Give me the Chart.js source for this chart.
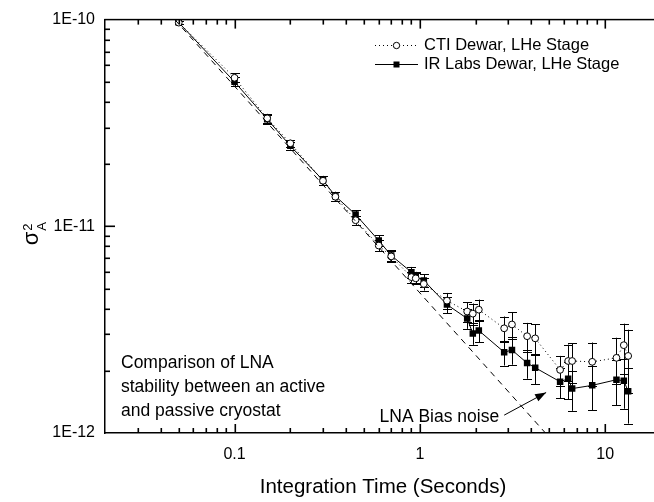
<!DOCTYPE html>
<html>
<head>
<meta charset="utf-8">
<script src="https://cdn.jsdelivr.net/npm/chart.js@4/dist/chart.umd.min.js"></script>
<style>
  html, body { margin: 0; padding: 0; background: #fff; overflow: hidden; width: 654px; height: 502px; }
  #wrap { position: relative; width: 680px; height: 502px; }
</style>
</head>
<body>
<div id="wrap"><canvas id="c" width="680" height="502"></canvas></div>
<script>
// Integration times (s) shared by both measurement runs
const times = [0.05, 0.1, 0.15, 0.2, 0.3, 0.35, 0.45, 0.6, 0.7, 0.9, 0.95, 1.05, 1.4, 1.8, 1.93, 2.08,
               2.85, 3.14, 3.79, 4.19, 5.71, 6.31, 6.63, 8.51, 11.5, 12.6, 13.3];

// Allan variance, CTI dewar (LHe stage)
const ctiVals = [9.67e-11, 5.23e-11, 3.33e-11, 2.52e-11, 1.66e-11, 1.39e-11, 1.07e-11, 8.07e-12, 7.15e-12,
                 5.68e-12, 5.6e-12, 5.26e-12, 4.37e-12, 3.87e-12, 3.78e-12, 3.95e-12, 3.21e-12, 3.35e-12,
                 2.94e-12, 2.87e-12, 2.02e-12, 2.23e-12, 2.23e-12, 2.21e-12, 2.31e-12, 2.66e-12, 2.36e-12];
const ctiErr  = [1.9e-12, 2.6e-12, 1.7e-12, 1.0e-12, 0.83e-12, 0.70e-12, 0.54e-12, 0.48e-12, 0.43e-12,
                 0.34e-12, 0.34e-12, 0.37e-12, 0.39e-12, 0.43e-12, 0.45e-12, 0.47e-12, 0.45e-12, 0.50e-12,
                 0.47e-12, 0.49e-12, 0.34e-12, 0.45e-12, 0.49e-12, 0.53e-12, 0.58e-12, 0.72e-12, 0.80e-12];

// Allan variance, IR Labs dewar (LHe stage)
const irVals  = [9.67e-11, 5.0e-11, 3.30e-11, 2.45e-11, 1.67e-11, 1.40e-11, 1.14e-11, 8.53e-12, 7.23e-12,
                 6.0e-12, 5.68e-12, 5.47e-12, 4.18e-12, 3.58e-12, 3.03e-12, 3.13e-12, 2.46e-12, 2.52e-12,
                 2.18e-12, 2.07e-12, 1.77e-12, 1.83e-12, 1.64e-12, 1.70e-12, 1.81e-12, 1.79e-12, 1.59e-12];
const irErr   = [1.9e-12, 2.5e-12, 1.65e-12, 0.98e-12, 0.84e-12, 0.70e-12, 0.57e-12, 0.51e-12, 0.43e-12,
                 0.36e-12, 0.34e-12, 0.38e-12, 0.38e-12, 0.39e-12, 0.36e-12, 0.38e-12, 0.34e-12, 0.38e-12,
                 0.35e-12, 0.35e-12, 0.30e-12, 0.37e-12, 0.36e-12, 0.41e-12, 0.45e-12, 0.48e-12, 0.48e-12];

// LNA bias noise: white-noise line (slope -1), endpoints on the frame
const biasTimes = [0.0476, 4.76];
const biasVals  = [1e-10, 1e-12];

// Axis extents and labelled decades
const xRange = [0.02, 20];
const yRange = [1e-12, 1e-10];
const xMajor = [0.1, 1, 10];
const yMajor = [1e-12, 1e-11, 1e-10];

const seriesNames = ['CTI Dewar, LHe Stage', 'IR Labs Dewar, LHe Stage'];
const noteLines = ['Comparison of LNA', 'stability between an active', 'and passive cryostat'];
const arrowLabel = 'LNA Bias noise';
const arrowTail = [2.85, 1.22e-12];
const arrowHead = [4.8, 1.57e-12];

const FONT = '"Liberation Sans", Arial, Helvetica, sans-serif';

const pts = (xs, ys) => xs.map((x, i) => ({ x, y: ys[i] }));

// 1..9 x 10^k positions strictly inside [lo, hi] for the tick marks
function logMarks(lo, hi) {
  const out = [];
  for (let k = Math.floor(Math.log10(lo)); k <= Math.ceil(Math.log10(hi)); k++) {
    for (let m = 1; m <= 9; m++) {
      const v = m * Math.pow(10, k);
      if (v > lo * 1.0001 && v < hi * 0.9999) out.push({ v: v, major: m === 1 });
    }
  }
  return out;
}

const inkPlugin = {
  id: 'ink',
  beforeDatasetsDraw(chart) {
    // vertical error bars with caps, under the markers
    const ctx = chart.ctx, xs = chart.scales.x, ys = chart.scales.y;
    ctx.save();
    ctx.strokeStyle = '#000';
    ctx.lineWidth = 1;
    chart.data.datasets.forEach(ds => {
      if (!ds.errors) return;
      ds.data.forEach((p, i) => {
        const e = ds.errors[i];
        const px = Math.round(xs.getPixelForValue(p.x)) + 0.5;
        const top = ys.getPixelForValue(p.y + e);
        const bot = ys.getPixelForValue(p.y - e);
        ctx.beginPath();
        ctx.moveTo(px, top); ctx.lineTo(px, bot);
        ctx.moveTo(px - 4.5, Math.round(top) + 0.5); ctx.lineTo(px + 4.5, Math.round(top) + 0.5);
        ctx.moveTo(px - 4.5, Math.round(bot) + 0.5); ctx.lineTo(px + 4.5, Math.round(bot) + 0.5);
        ctx.stroke();
      });
    });
    ctx.restore();
  },
  afterDraw(chart) {
    const ctx = chart.ctx, xs = chart.scales.x, ys = chart.scales.y;
    const a = chart.chartArea;
    ctx.save();
    ctx.setLineDash([]);
    ctx.strokeStyle = '#000';
    ctx.fillStyle = '#000';

    // top frame line
    ctx.fillRect(a.left - 0.75, a.top - 0.75, a.right - a.left + 1.5, 1.5);

    // inward tick marks on bottom, top and left edges
    for (const t of logMarks(xRange[0], xRange[1])) {
      const px = Math.round(xs.getPixelForValue(t.v));
      const len = t.major ? 9 : 5;
      ctx.fillRect(px - 0.5, a.bottom - len, 1.6, len);
      ctx.fillRect(px - 0.5, a.top, 1.6, len);
    }
    for (const t of logMarks(yRange[0], yRange[1])) {
      const py = Math.round(ys.getPixelForValue(t.v));
      const len = t.major ? 10 : 5;
      ctx.fillRect(a.left, py - 0.5, len, 1.6);
    }

    // y axis title: sigma_A squared, rotated
    ctx.save();
    ctx.translate(38, (a.top + a.bottom) / 2 + 9);
    ctx.rotate(-Math.PI / 2);
    ctx.textBaseline = 'alphabetic';
    ctx.textAlign = 'left';
    ctx.font = '22px ' + FONT;
    ctx.fillText('σ', -10, 0);
    const sw = ctx.measureText('σ').width;
    ctx.font = '13px ' + FONT;
    ctx.fillText('A', -10 + sw + 1, 8);
    ctx.fillText('2', -10 + sw + 1, -6);
    ctx.restore();

    // x axis title
    ctx.font = '20.5px ' + FONT;
    ctx.textAlign = 'center';
    ctx.textBaseline = 'middle';
    ctx.fillText('Integration Time (Seconds)', (a.left + a.right) / 2, 487);

    // legend
    ctx.font = '16.5px ' + FONT;
    ctx.textAlign = 'left';
    const rows = [45, 64];
    ctx.lineWidth = 1;
    ctx.setLineDash([1, 3]);
    ctx.beginPath(); ctx.moveTo(375, rows[0] + 0.5); ctx.lineTo(418, rows[0] + 0.5); ctx.stroke();
    ctx.setLineDash([]);
    ctx.fillStyle = '#fff';
    ctx.beginPath(); ctx.arc(396.5, rows[0] + 0.5, 3.2, 0, Math.PI * 2); ctx.fill(); ctx.stroke();
    ctx.fillStyle = '#000';
    ctx.beginPath(); ctx.moveTo(375, rows[1] + 0.5); ctx.lineTo(418, rows[1] + 0.5); ctx.stroke();
    ctx.fillRect(393.5, rows[1] - 2.5, 6, 6);
    ctx.fillText(seriesNames[0], 424, rows[0]);
    ctx.fillText(seriesNames[1], 424, rows[1]);

    // note text block
    ctx.font = '17.5px ' + FONT;
    noteLines.forEach((s, i) => ctx.fillText(s, a.left + 16, 363 + i * 24));

    // arrow pointing at the bias-noise line
    const tx = xs.getPixelForValue(arrowTail[0]), ty = ys.getPixelForValue(arrowTail[1]);
    const hx = xs.getPixelForValue(arrowHead[0]), hy = ys.getPixelForValue(arrowHead[1]);
    ctx.lineWidth = 1;
    ctx.beginPath(); ctx.moveTo(tx, ty); ctx.lineTo(hx, hy); ctx.stroke();
    const ang = Math.atan2(hy - ty, hx - tx);
    ctx.beginPath();
    ctx.moveTo(hx, hy);
    ctx.lineTo(hx - 11 * Math.cos(ang) + 4 * Math.sin(ang), hy - 11 * Math.sin(ang) - 4 * Math.cos(ang));
    ctx.lineTo(hx - 11 * Math.cos(ang) - 4 * Math.sin(ang), hy - 11 * Math.sin(ang) + 4 * Math.cos(ang));
    ctx.closePath(); ctx.fill();
    ctx.font = '17.5px ' + FONT;
    ctx.textAlign = 'right';
    ctx.fillText(arrowLabel, tx - 5, ty + 2);

    ctx.restore();
  }
};

new Chart(document.getElementById('c'), {
  type: 'scatter',
  data: {
    datasets: [
      {
        label: 'LNA Bias noise',
        data: pts(biasTimes, biasVals),
        showLine: true,
        borderColor: '#000',
        borderWidth: 1,
        borderDash: [6, 5],
        pointRadius: 0
      },
      {
        label: seriesNames[0],
        data: pts(times, ctiVals),
        errors: ctiErr,
        showLine: true,
        borderColor: '#000',
        borderWidth: 1,
        borderDash: [1, 3],
        pointStyle: 'circle',
        pointRadius: 3.4,
        pointBorderWidth: 1,
        pointBackgroundColor: '#fff',
        pointBorderColor: '#000'
      },
      {
        label: seriesNames[1],
        data: pts(times, irVals),
        errors: irErr,
        showLine: true,
        borderColor: '#000',
        borderWidth: 1,
        pointStyle: 'rect',
        pointRadius: 4.6,
        pointBorderWidth: 0,
        pointBackgroundColor: '#000',
        pointBorderColor: '#000'
      }
    ]
  },
  options: {
    responsive: false,
    animation: false,
    devicePixelRatio: 1,
    layout: { padding: { left: 0, top: 14, right: 19, bottom: 0 } },
    plugins: { legend: { display: false }, tooltip: { enabled: false } },
    scales: {
      x: {
        type: 'logarithmic',
        min: xRange[0], max: xRange[1],
        grid: { display: false, drawTicks: false },
        border: { display: true, color: '#000', width: 1.5 },
        ticks: {
          autoSkip: false, maxRotation: 0, padding: 12,
          color: '#000', font: { family: FONT, size: 16 },
          callback: v => xMajor.some(m => Math.abs(m - v) < m * 1e-6) ? String(v) : ''
        },
        afterFit: s => { s.height = 69; }
      },
      y: {
        type: 'logarithmic',
        min: yRange[0], max: yRange[1],
        grid: { display: false, drawTicks: false },
        border: { display: true, color: '#000', width: 1.5 },
        ticks: {
          autoSkip: false, padding: 10,
          color: '#000', font: { family: FONT, size: 16 },
          callback: v => yMajor.some(m => Math.abs(m - v) < m * 1e-6) ? v.toExponential(0).toUpperCase() : ''
        },
        afterFit: s => { s.width = 105; }
      }
    }
  },
  plugins: [inkPlugin]
});
</script>
</body>
</html>
